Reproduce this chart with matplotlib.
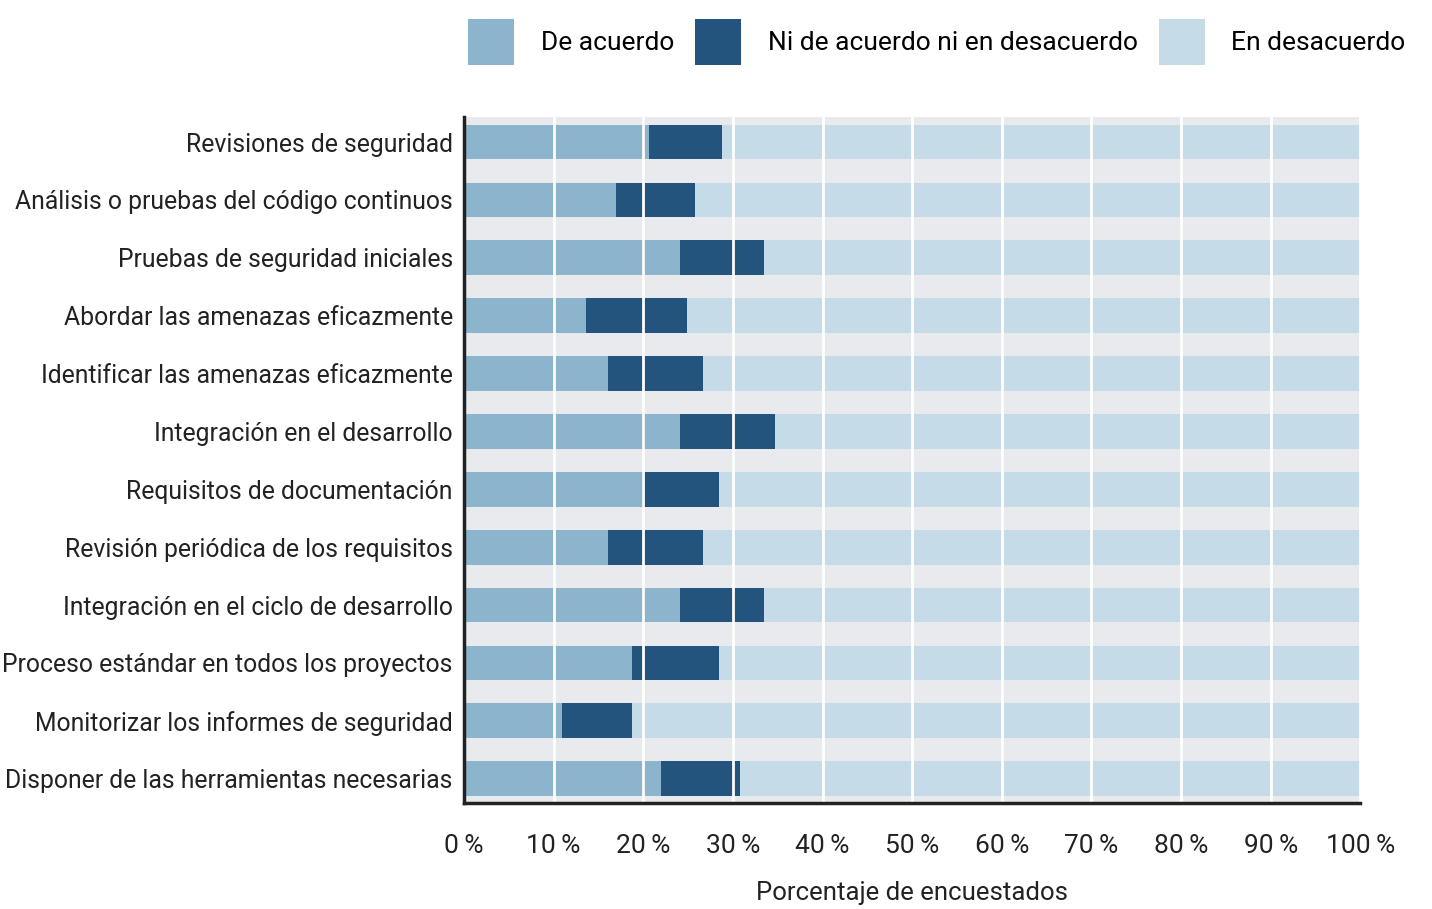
import matplotlib
matplotlib.use("Agg")
import matplotlib.pyplot as plt
from matplotlib.patches import Patch

plt.rcParams['font.family'] = ['Roboto', 'DejaVu Sans']

categorias = [
    'Revisiones de seguridad',
    'Análisis o pruebas del código continuos',
    'Pruebas de seguridad iniciales',
    'Abordar las amenazas eficazmente',
    'Identificar las amenazas eficazmente',
    'Integración en el desarrollo',
    'Requisitos de documentación',
    'Revisión periódica de los requisitos',
    'Integración en el ciclo de desarrollo',
    'Proceso estándar en todos los proyectos',
    'Monitorizar los informes de seguridad',
    'Disponer de las herramientas necesarias',
]
de_acuerdo = [20.6, 17.0, 24.1, 13.6, 16.1, 24.1, 19.9, 16.1, 24.1, 18.8, 10.9, 22.0]
neutral = [8.2, 8.8, 9.4, 11.3, 10.6, 10.6, 8.6, 10.6, 9.4, 9.7, 7.8, 8.8]
desacuerdo = [100 - a - b for a, b in zip(de_acuerdo, neutral)]

series = ['De acuerdo', 'Ni de acuerdo ni en desacuerdo', 'En desacuerdo']
colores = ['#8cb4cd', '#22547d', '#c5dbe7']
ticks = [0, 10, 20, 30, 40, 50, 60, 70, 80, 90, 100]

fig = plt.figure(figsize=(14.32, 9.09), dpi=100)
ax = fig.add_axes([0.324, 0.1166, 0.626, 0.7545])
ax.set_facecolor('#e9eaee')

y = list(range(len(categorias)))
izq = [0] * len(categorias)
for vals, col in zip([de_acuerdo, neutral, desacuerdo], colores):
    ax.barh(y, vals, left=izq, height=0.6, color=col, zorder=2)
    izq = [a + b for a, b in zip(izq, vals)]

ax.set_ylim(len(categorias) - 1 + 0.42, -0.43)
ax.set_xlim(0, 100)
ax.set_yticks(y)
ax.set_yticklabels(categorias, fontsize=17.8, color='#222222')
ax.set_xticks(ticks)
ax.set_xticklabels([f'{t}\u2009%' for t in ticks], fontsize=19, color='#222222')
ax.tick_params(axis='both', length=0)
ax.tick_params(axis='x', pad=22)
ax.tick_params(axis='y', pad=8)
ax.xaxis.grid(True, color='white', linewidth=2, zorder=3)
ax.set_axisbelow(False)
ax.set_xlabel('Porcentaje de encuestados', fontsize=18.5, color='#222222', labelpad=17)

for s in ['top', 'right']:
    ax.spines[s].set_visible(False)
for s in ['left', 'bottom']:
    ax.spines[s].set_color('#222222')
    ax.spines[s].set_linewidth(2.5)
    ax.spines[s].set_zorder(4)

handles = [Patch(facecolor=c, label=s) for s, c in zip(series, colores)]
fig.legend(handles=handles, loc='upper right', bbox_to_anchor=(0.998, 1.005), ncol=3,
           frameon=False, fontsize=19, handlelength=1.75, handleheight=2.3,
           columnspacing=0.8, handletextpad=1.0)

fig.savefig('out.png', dpi=100)
